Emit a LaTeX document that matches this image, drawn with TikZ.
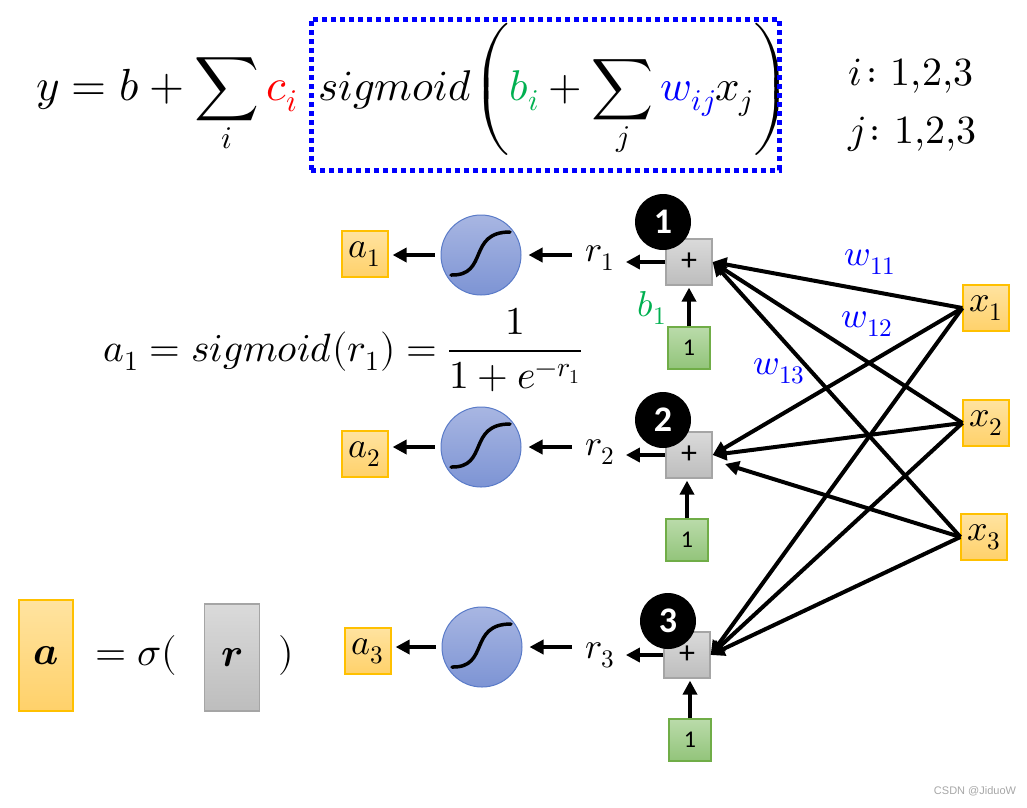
\documentclass[tikz,border=0pt]{standalone}
\usepackage{fontspec}
\usepackage{unicode-math}
\newfontfamily\carl{Carlito}
\newfontfamily\wmfont{Liberation Sans}
\usetikzlibrary{arrows.meta}
\definecolor{orB}{HTML}{FFC000}
\definecolor{orT}{HTML}{FFE3A0}
\definecolor{orBo}{HTML}{FFD16A}
\definecolor{grnB}{HTML}{70AD47}
\definecolor{grnT}{HTML}{BADBAA}
\definecolor{grnBo}{HTML}{92C47A}
\definecolor{gryB}{HTML}{A5A5A5}
\definecolor{gryT}{HTML}{DADADA}
\definecolor{gryBo}{HTML}{BDBDBD}
\definecolor{sigB}{HTML}{5A7BC8}
\definecolor{sigT}{HTML}{A8B6E2}
\definecolor{sigBo}{HTML}{7D94D4}
\definecolor{wblue}{HTML}{0000FF}
\definecolor{bgreen}{HTML}{00B050}
\tikzset{
  obox/.style={draw=orB, line width=1.2, top color=orT, bottom color=orBo, minimum width=46, minimum height=46, inner sep=0, font=\fontsize{36}{40}\selectfont},
  gbox/.style={draw=grnB, line width=1.2, top color=grnT, bottom color=grnBo, minimum width=42, minimum height=42, inner sep=0, font=\carl\fontsize{24}{28}\selectfont},
  pbox/.style={draw=gryB, line width=1.2, top color=gryT, bottom color=gryBo, minimum width=46, minimum height=46, inner sep=0, font=\carl\fontsize{32}{34}\selectfont},
  sigc/.style={circle, draw=sigB, line width=1, top color=sigT, bottom color=sigBo, minimum size=80, inner sep=0},
  numc/.style={circle, fill=black, minimum size=56, inner sep=0, text=white, font=\carl\bfseries\fontsize{36}{38}\selectfont},
  lab/.style={inner sep=0, font=\fontsize{36}{40}\selectfont},
  wlab/.style={inner sep=0, text=wblue, font=\fontsize{36}{40}\selectfont},
  conn/.style={line width=4, -{Triangle[length=14,width=14]}},
  sigcurve/.pic={\draw[line width=3.5, line cap=round] (-30,20) .. controls (8,21) and (-14,-23) .. (29,-23);}
}
\begin{document}
\begin{tikzpicture}[x=1pt,y=-1pt]
\useasboundingbox (0,0) rectangle (1027,807);
% top formula
\node[inner sep=0, anchor=base east, font=\fontsize{45}{50}\selectfont] (f1) at (298,100)
  {$\displaystyle y = b + \sum_i \textcolor{red}{c_i}$};
\node[inner sep=0, anchor=base west, font=\fontsize{43}{48}\selectfont] (f2) at (318,100)
  {$\displaystyle sigmoid\!\left(\textcolor{bgreen}{b_i} + \sum_j \textcolor{wblue}{w_{ij}} x_j\right)$};
\node[draw=wblue, line width=5, dash pattern=on 5 off 4, minimum width=468, minimum height=151, inner sep=0] (fbox) at (545,94.5) {};
\node[inner sep=0, anchor=base west, font=\fontsize{40}{44}\selectfont] (ii) at (848,85) {$i\colon 1{,}2{,}3$};
\node[inner sep=0, anchor=base west, font=\fontsize{40}{44}\selectfont] (jj) at (848,143) {$j\colon 1{,}2{,}3$};

% sigmoid formula
\node[inner sep=0, anchor=base west, font=\fontsize{39.5}{44}\selectfont] (sf) at (103,361)
  {$\displaystyle a_1 = sigmoid(r_1) = \frac{1}{1+e^{-r_1}}$};

% inputs
\node[obox] (x1) at (986,308) {$x_1$};
\node[obox] (x2) at (986,423) {$x_2$};
\node[obox] (x3) at (984,537) {$x_3$};

% row 1
\node[obox] (a1) at (365,254) {$a_1$};
\node[sigc] (s1) at (481,255) {};
\pic at (s1) {sigcurve};
\node[lab] (r1) at (600,258) {$r_1$};
\node[pbox] (p1) at (689,262) {+};
\node[numc] (c1) at (663,222) {1};
\node[gbox] (g1) at (689,348) {1};
\node[lab, text=bgreen] (b1) at (652,308) {$b_1$};

% row 2
\node[obox] (a2) at (365,454) {$a_2$};
\node[sigc] (s2) at (481,447) {};
\pic at (s2) {sigcurve};
\node[lab] (r2) at (600,452) {$r_2$};
\node[pbox] (p2) at (689,455) {+};
\node[numc] (c2) at (663,420) {2};
\node[gbox] (g2) at (687,540) {1};

% row 3
\node[obox] (a3) at (368,651) {$a_3$};
\node[sigc] (s3) at (482,647) {};
\pic at (s3) {sigcurve};
\node[lab] (r3) at (600,655) {$r_3$};
\node[pbox] (p3) at (687,655) {+};
\node[numc] (c3) at (668,621) {3};
\node[gbox] (g3) at (690,740) {1};

% row arrows
\foreach \i in {1,2,3}{
  \draw[conn, shorten <=6, shorten >=4] (s\i.west) -- (a\i.east |- s\i.west);
  \draw[conn, shorten <=13, shorten >=7] (r\i.west |- s\i.west) -- (s\i.east);
  \draw[conn, shorten >=11] (p\i.west) -- (r\i.east |- p\i.west);
  \draw[conn, shorten >=2] (g\i.north) -- (g\i.north |- p\i.south);
}

% weights
\coordinate (p2x3) at (725,464);
\draw[conn] (x1.west) -- (p1.east);
\draw[conn] (x2.west) -- (p1.east);
\draw[conn] (x3.west) -- (p1.east);
\draw[conn] (x1.west) -- (p2.east);
\draw[conn] (x2.west) -- (p2.east);
\draw[conn] (x3.west) -- (p2x3);
\draw[conn] (x1.west) -- (p3.east);
\draw[conn] (x2.west) -- (p3.east);
\draw[conn] (x3.west) -- (p3.east);
\node[wlab] (w11) at (870,262) {$w_{11}$};
\node[wlab] (w12) at (867,324) {$w_{12}$};
\node[wlab] (w13) at (779,371) {$w_{13}$};

% vector form
\node[obox, minimum width=54, minimum height=111, font=\fontsize{40}{44}\selectfont] (va) at (46,655.5) {$\symbfit{a}$};
\node[inner sep=0, font=\fontsize{40}{44}\selectfont] (eqs) at (136,655) {$=\sigma($};
\node[pbox, minimum width=55, minimum height=107, font=\fontsize{40}{44}\selectfont] (vr) at (232,657.5) {$\symbfit{r}$};
\node[inner sep=0, font=\fontsize{40}{44}\selectfont] (cp) at (286,655) {$)$};

% watermark
\node[inner sep=0, text=gray!70, font=\wmfont\fontsize{11}{12}\selectfont] (wm) at (975,791) {CSDN @JiduoW};
\end{tikzpicture}
\end{document}
